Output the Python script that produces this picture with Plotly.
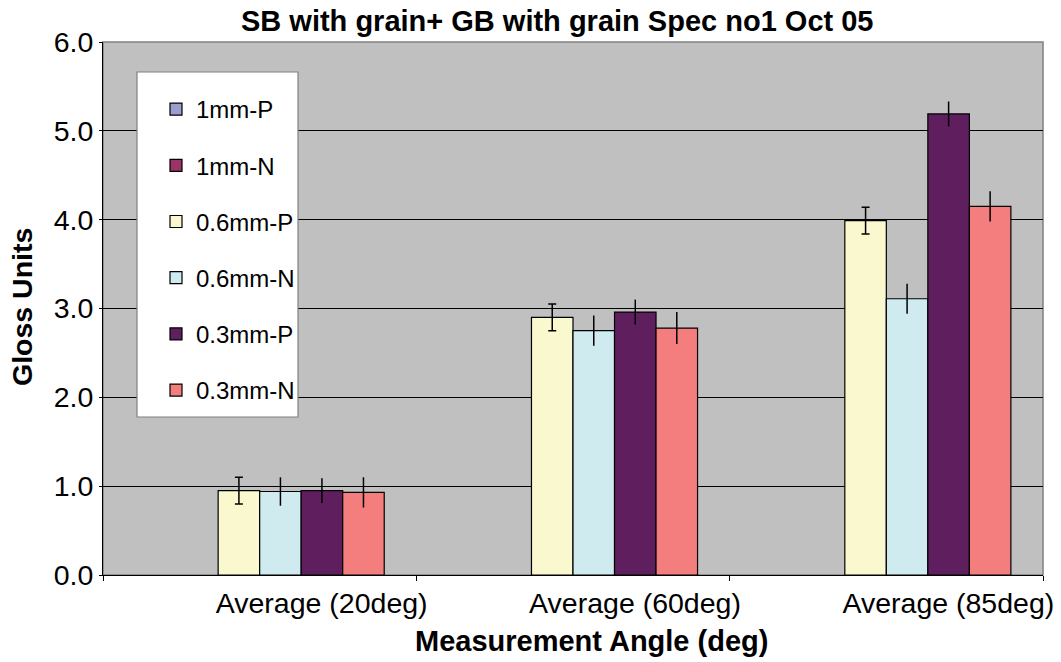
import plotly.graph_objects as go

# Measurement angles (categories on the x axis)
categories = ["Average (20deg)", "Average (60deg)", "Average (85deg)"]

# Series names, in legend order
series_names = ["1mm-P", "1mm-N", "0.6mm-P", "0.6mm-N", "0.3mm-P", "0.3mm-N"]

# Mean gloss values per series (1 mm samples were not measured)
gloss_1mm_p = [None, None, None]
gloss_1mm_n = [None, None, None]
gloss_06mm_p = [0.95, 2.90, 3.99]
gloss_06mm_n = [0.94, 2.75, 3.11]
gloss_03mm_p = [0.95, 2.96, 5.19]
gloss_03mm_n = [0.93, 2.78, 4.15]

# Error bar half-widths (standard deviation)
err_1mm_p = [None, None, None]
err_1mm_n = [None, None, None]
err_06mm_p = [0.15, 0.15, 0.15]
err_06mm_n = [0.16, 0.17, 0.17]
err_03mm_p = [0.14, 0.14, 0.14]
err_03mm_n = [0.17, 0.18, 0.17]

values = [gloss_1mm_p, gloss_1mm_n, gloss_06mm_p, gloss_06mm_n, gloss_03mm_p, gloss_03mm_n]
errors = [err_1mm_p, err_1mm_n, err_06mm_p, err_06mm_n, err_03mm_p, err_03mm_n]
colors = ["#9C9CCF", "#9A3366", "#FAF8CF", "#CFEBF0", "#5F1F5F", "#F47E7E"]
cap_widths = [0, 0, 4, 0, 0, 0]

FONT = "Liberation Sans, Arial, sans-serif"

fig = go.Figure()
for name, vals, errs, col, cw in zip(series_names, values, errors, colors, cap_widths):
    fig.add_trace(go.Bar(
        name=name,
        x=categories,
        y=vals,
        legendgroup=name,
        marker=dict(color=col, line=dict(color="#000000", width=1.2)),
        error_y=dict(type="data", array=errs, visible=True,
                     color="#000000", thickness=1.5, width=cw),
    ))

L, R, T, B = 103, 18, 42, 87
W, H = 1061, 662
pw, ph = W - L - R, H - T - B

def px_x(x):
    return (x - L) / pw

def px_y(y):
    return (H - B - y) / ph

fig.update_layout(
    width=W, height=H,
    margin=dict(l=L, r=R, t=T, b=B, pad=0),
    paper_bgcolor="#FFFFFF",
    plot_bgcolor="#C0C0C0",
    barmode="group",
    bargap=0.205,
    bargroupgap=0,
    font=dict(family=FONT, color="#000000"),
    showlegend=True,
    legend=dict(
        x=px_x(156), y=px_y(87), xanchor="left", yanchor="top",
        bgcolor="rgba(0,0,0,0)", borderwidth=0,
        font=dict(family=FONT, size=24, color="#000000"),
        tracegroupgap=22,
        traceorder="grouped",
    ),
    xaxis=dict(
        type="category",
        showgrid=False,
        showline=True, linecolor="#000000", linewidth=1,
        ticks="outside", ticklen=5, tickcolor="#000000",
        tickson="boundaries",
        ticklabelshift=62,
        ticklabelstandoff=3,
        tickfont=dict(family=FONT, size=28.5, color="#000000"),
        automargin=False,
        zeroline=False,
    ),
    yaxis=dict(
        range=[0, 6], dtick=1, tick0=0, tickformat=".1f",
        showgrid=True, gridcolor="#000000", gridwidth=1,
        showline=True, linecolor="#000000", linewidth=1,
        ticks="outside", ticklen=3, tickcolor="#000000",
        tickfont=dict(family=FONT, size=28.5, color="#000000"),
        automargin=False,
        zeroline=False,
    ),
    shapes=[
        # plot frame (top/right edges in grey)
        dict(type="rect", xref="paper", yref="paper", x0=0, x1=1, y0=0, y1=1,
             line=dict(color="#808080", width=1.5), layer="below"),
        # legend box
        dict(type="rect", xref="paper", yref="paper",
             x0=px_x(137), x1=px_x(298), y0=px_y(417), y1=px_y(72),
             fillcolor="#FFFFFF", line=dict(color="#808080", width=1.2),
             layer="above"),
    ],
    annotations=[
        dict(text="<b>SB with grain+ GB with grain Spec no1 Oct 05</b>",
             xref="paper", yref="paper", x=px_x(557), y=px_y(21),
             xanchor="center", yanchor="middle", showarrow=False,
             font=dict(family=FONT, size=29, color="#000000")),
        dict(text="<b>Measurement Angle (deg)</b>",
             xref="paper", yref="paper", x=px_x(591), y=px_y(641),
             xanchor="center", yanchor="middle", showarrow=False,
             font=dict(family=FONT, size=29, color="#000000")),
        dict(text="<b>Gloss Units</b>", textangle=-90,
             xref="paper", yref="paper", x=px_x(22), y=px_y(307),
             xanchor="center", yanchor="middle", showarrow=False,
             font=dict(family=FONT, size=28.5, color="#000000")),
    ],
)

fig.write_html("out.html")
